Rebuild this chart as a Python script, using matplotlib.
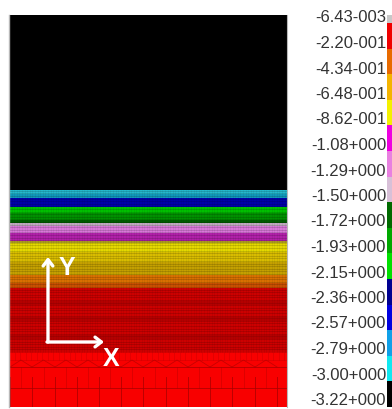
import matplotlib
matplotlib.use("Agg")
import matplotlib.pyplot as plt
import numpy as np

plt.rcParams["font.family"] = ["Liberation Sans", "DejaVu Sans"]

W, H = 392, 409

# contour legend
level_labels = ["-6.43-003", "-2.20-001", "-4.34-001", "-6.48-001", "-8.62-001",
                "-1.08+000", "-1.29+000", "-1.50+000", "-1.72+000", "-1.93+000",
                "-2.15+000", "-2.36+000", "-2.57+000", "-2.79+000", "-3.00+000",
                "-3.22+000"]
legend_colors = ["#f00000", "#e86a00", "#f4b400", "#f4f000", "#ee00e0", "#e880e0",
                 "#d8c0d8", "#006a00", "#00a800", "#00e000", "#000090", "#0000e0",
                 "#10a0e8", "#10e8f0", "#000000"]

# bands of the field, top edge in model height (0 = bottom of the mesh)
band_tops = [392, 217, 213, 209, 200, 194, 187, 184, 181, 174, 166, 164, 155, 145,
             132, 124, 119, 55]
band_colors = ["#000000", "#25b8cc", "#1098b8", "#0000a8", "#00c000", "#009000",
               "#005a00", "#c0a8c0", "#d878d8", "#b020a8", "#a89820", "#e4d800",
               "#d8bc00", "#c4a000", "#d87000", "#c85000", "#cc0000", "#f80000"]

fine_mesh_top = 217
coarse_x = [1, 23, 46, 68, 90, 112, 134, 157, 179, 201, 223, 246, 268]
coarse_y = [19, 40]

fig = plt.figure(figsize=(W / 100, H / 100), dpi=100)

ax = fig.add_axes([9 / W, 1 - 407 / H, 278 / W, 392 / H])
ax.set_xlim(0, 278)
ax.set_ylim(0, 392)
ax.axis("off")

tops = np.array(band_tops, dtype=float)
bottoms = np.append(tops[1:], 0)
ax.barh(bottoms, 278, height=tops - bottoms, align="edge", color=band_colors, linewidth=0)

# fine mesh over the graded part
for y in np.arange(55, fine_mesh_top, 2.6):
    ax.plot([0, 278], [y, y], color="k", lw=0.5, alpha=0.2)
for x in np.arange(0, 278, 2.6):
    ax.plot([x, x], [55, fine_mesh_top], color="k", lw=0.4, alpha=0.1)

# darker stripes in the red part
for y in [70, 88, 104]:
    ax.plot([0, 278], [y, y], color="#900000", lw=3, alpha=0.4)

# transition mesh and coarse mesh at the bottom
for x in np.arange(0, 278, 5.5):
    ax.plot([x, x], [47, 55], color="#c00000", lw=0.5, alpha=0.5)
ax.plot([0, 278], [47, 47], color="#c00000", lw=0.5, alpha=0.5)
for y in coarse_y:
    ax.plot([0, 278], [y, y], color="#a80000", lw=0.7, alpha=0.75)
for x in coarse_x:
    ax.plot([x, x], [0, 30], color="#a80000", lw=0.7, alpha=0.75)
for a, b in zip(coarse_x[:-1], coarse_x[1:]):
    ax.plot([a, (a + b) / 2, b], [40, 47, 40], color="#a80000", lw=0.6, alpha=0.6)
    ax.plot([(a + b) / 2, (a + b) / 2], [40, 19], color="#a80000", lw=0.6, alpha=0.4)

# frame on the left and right of the plot
ax.plot([0, 0], [0, 392], color="#b8b8b8", lw=1, clip_on=False)
ax.plot([278, 278], [0, 392], color="#b8b8b8", lw=0.8, clip_on=False)

# coordinate triad
ax.annotate("", xy=(39, 150), xytext=(39, 65),
            arrowprops=dict(arrowstyle="->,head_width=0.35,head_length=0.45", color="white", lw=2.4,
                            shrinkA=0, shrinkB=0))
ax.annotate("", xy=(95, 65), xytext=(38, 65),
            arrowprops=dict(arrowstyle="->,head_width=0.35,head_length=0.45", color="white", lw=2.4,
                            shrinkA=0, shrinkB=0))
ax.text(58, 139, "Y", color="white", fontsize=18, fontweight="bold", ha="center", va="center")
ax.text(102, 48, "X", color="white", fontsize=18, fontweight="bold", ha="center", va="center")

# legend strip
cax = fig.add_axes([387 / W, 1 - 407 / H, 5 / W, 392 / H])
cax.set_xlim(0, 1)
cax.set_ylim(392, 0)
cax.axis("off")
cax.barh(0, 1, height=8, align="edge", color="#c8c8c8", linewidth=0)
seg_h = 384 / len(legend_colors)
for i, c in enumerate(legend_colors):
    cax.barh(8 + i * seg_h, 1, height=seg_h, align="edge", color=c, linewidth=0)

for i, lab in enumerate(level_labels):
    fig.text(386 / W, 1 - (18 + i * 25.5) / H, lab, fontsize=12, color="#333333",
             ha="right", va="center")

fig.savefig("out.png", dpi=100)
